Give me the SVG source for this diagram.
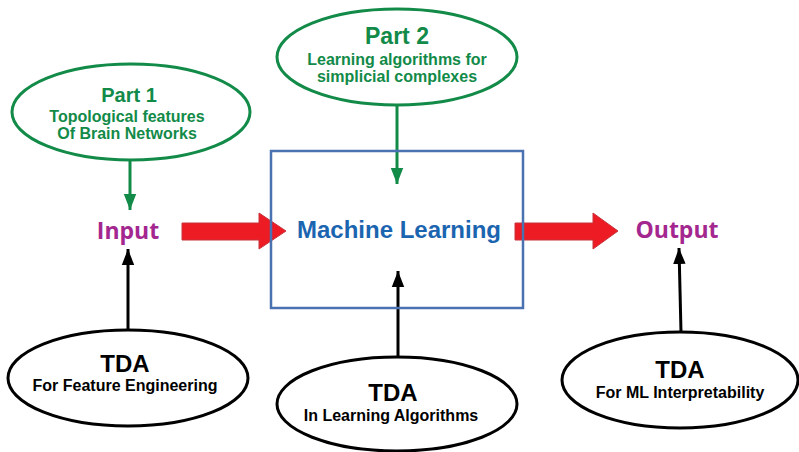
<svg xmlns="http://www.w3.org/2000/svg" width="799" height="452" viewBox="0 0 799 452">
<style>
.gE{fill:#fff;stroke:#128a48;stroke-width:3}
.bE{fill:#fff;stroke:#000;stroke-width:3}
.gT{fill:#128a48;font-family:"Liberation Sans",Arial,sans-serif;font-weight:bold;text-anchor:middle}
.bT{fill:#000;font-family:"Liberation Sans",Arial,sans-serif;font-weight:bold;text-anchor:middle}
.pT{fill:#a3278f;font-family:"Open Sans","Noto Sans",sans-serif;font-weight:bold;text-anchor:middle;font-size:23px}
.gL{stroke:#128a48;stroke-width:3;fill:none}
.kL{stroke:#000;stroke-width:3;fill:none}
.red{fill:#ed1c24;stroke:#c8323a;stroke-width:1}
</style>
<defs>
<marker id="gA" markerUnits="userSpaceOnUse" markerWidth="16" markerHeight="20" refX="18" refY="7" orient="auto" viewBox="0 0 18 14">
<path d="M0,0 L18,7 L0,14 Z" fill="#128a48"/>
</marker>
<marker id="kA" markerUnits="userSpaceOnUse" markerWidth="16" markerHeight="20" refX="18" refY="7" orient="auto" viewBox="0 0 18 14">
<path d="M0,0 L18,7 L0,14 Z" fill="#000"/>
</marker>
</defs>
<rect width="799" height="452" fill="#fff"/>
<g id="connectors">
<line class="gL" x1="130" y1="160" x2="130" y2="210" marker-end="url(#gA)"/>
<line class="gL" x1="397" y1="106" x2="397" y2="184" marker-end="url(#gA)"/>
<line class="kL" x1="128" y1="330" x2="128" y2="249" marker-end="url(#kA)"/>
<line class="kL" x1="398" y1="357" x2="398" y2="271" marker-end="url(#kA)"/>
<line class="kL" x1="681" y1="332" x2="679" y2="248" marker-end="url(#kA)"/>
<polygon class="red" points="182,223 259,223 259,213 286,231 259,249 259,240 182,240"/>
<polygon class="red" points="515,223 593,223 593,213 618,231 593,249 593,240 515,240"/>
</g>
<g id="ml">
<rect x="271" y="151" width="252" height="157" fill="none" stroke="#4a72b0" stroke-width="2.5"/>
<text x="399" y="238" fill="#1b65b0" font-family="Liberation Sans,Arial,sans-serif" font-weight="bold" font-size="24" text-anchor="middle">Machine Learning</text>
</g>
<g id="input"><text class="pT" x="128" y="239">Input</text></g>
<g id="output"><text class="pT" x="677" y="238">Output</text></g>
<g id="part1">
<ellipse class="gE" cx="131" cy="112" rx="119" ry="48"/>
<text class="gT" x="129" y="102" font-size="20">Part 1</text>
<text class="gT" x="127" y="122" font-size="16">Topological features</text>
<text class="gT" x="127" y="139" font-size="16">Of Brain Networks</text>
</g>
<g id="part2">
<ellipse class="gE" cx="397" cy="57" rx="120" ry="48"/>
<text class="gT" x="397" y="44" font-size="23">Part 2</text>
<text class="gT" x="397" y="65" font-size="16">Learning algorithms for</text>
<text class="gT" x="397" y="82" font-size="16">simplicial complexes</text>
</g>
<g id="tda1">
<ellipse class="bE" cx="128" cy="378" rx="120" ry="48"/>
<text class="bT" x="125" y="372" font-size="24">TDA</text>
<text class="bT" x="125" y="391" font-size="16">For Feature Engineering</text>
</g>
<g id="tda2">
<ellipse class="bE" cx="397" cy="404" rx="120" ry="47"/>
<text class="bT" x="393" y="401" font-size="24">TDA</text>
<text class="bT" x="391" y="421" font-size="16">In Learning Algorithms</text>
</g>
<g id="tda3">
<ellipse class="bE" cx="680" cy="380" rx="118" ry="48"/>
<text class="bT" x="680" y="378" font-size="24">TDA</text>
<text class="bT" x="680" y="398" font-size="16">For ML Interpretability</text>
</g>
</svg>
